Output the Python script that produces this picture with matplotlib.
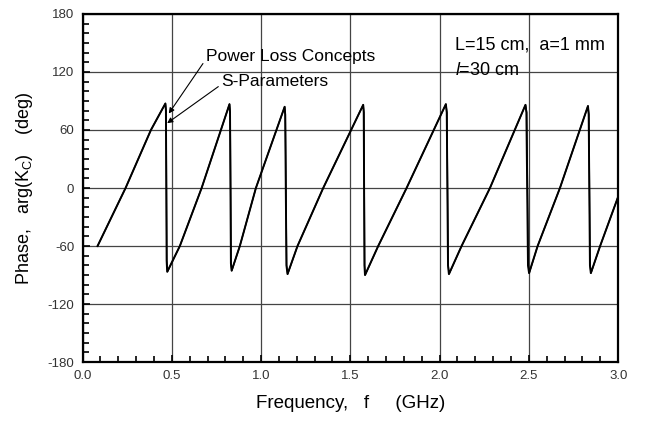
import matplotlib.pyplot as plt
from matplotlib.ticker import MultipleLocator

plt.rcParams["font.family"] = ["Liberation Sans", "DejaVu Sans"]
plt.rcParams["mathtext.fontset"] = "custom"
plt.rcParams["mathtext.rm"] = "Liberation Sans"
plt.rcParams["mathtext.it"] = "Liberation Sans:italic"
plt.rcParams["axes.unicode_minus"] = False

# phase of K_C vs frequency
power_f = [0.084, 0.241, 0.383, 0.464, 0.467, 0.471, 0.474, 0.545, 0.667,
           0.823, 0.826, 0.831, 0.835, 0.881, 0.971, 1.132, 1.135, 1.142,
           1.148, 1.204, 1.348, 1.572, 1.575, 1.579, 1.582, 1.656, 1.815,
           2.035, 2.040, 2.047, 2.052, 2.123, 2.282, 2.481, 2.486, 2.495,
           2.501, 2.549, 2.674, 2.831, 2.835, 2.842, 2.847, 2.899, 3.0]
power_phase = [-60, 0, 60, 87.4, 80, -75, -86.6, -60, 0,
               86.7, 78, -78, -85.5, -60, 0, 84, 76, -80,
               -89, -60, 0, 86, 78, -80, -90, -60, 0,
               86.7, 78, -80, -89, -60, 0, 86, 78, -80,
               -88, -60, 0, 84.8, 76, -80, -88, -60, -9]

spar_f = [0.084, 0.241, 0.383, 0.464, 0.468, 0.472, 0.476, 0.545, 0.667,
          0.823, 0.827, 0.832, 0.836, 0.881, 0.971, 1.132, 1.136, 1.143,
          1.149, 1.204, 1.348, 1.572, 1.576, 1.580, 1.583, 1.656, 1.815,
          2.035, 2.041, 2.048, 2.053, 2.123, 2.282, 2.481, 2.488, 2.497,
          2.502, 2.549, 2.674, 2.831, 2.836, 2.843, 2.848, 2.899, 3.0]
spar_phase = power_phase

fig = plt.figure(figsize=(6.5, 4.22), dpi=100)
ax = fig.add_axes([0.127, 0.142, 0.824, 0.825])

ax.plot(power_f, power_phase, color="black", lw=1.4)
ax.plot(spar_f, spar_phase, color="black", lw=1.0)

ax.set_xlim(0, 3.0)
ax.set_ylim(-180, 180)
ax.xaxis.set_major_locator(MultipleLocator(0.5))
ax.xaxis.set_minor_locator(MultipleLocator(0.1))
ax.yaxis.set_major_locator(MultipleLocator(60))
ax.yaxis.set_minor_locator(MultipleLocator(10))
ax.xaxis.set_major_formatter(lambda v, p: f"{v:.1f}")
ax.tick_params(which="both", direction="in", top=False, right=False,
               labelsize=9.5, labelcolor="#333333", width=1.2)
ax.tick_params(which="major", length=5, pad=6)
ax.tick_params(which="minor", length=4)
ax.grid(True, which="major", color="#444444", lw=0.9)
for s in ax.spines.values():
    s.set_linewidth(1.6)

ax.set_xlabel("Frequency,   f     (GHz)", fontsize=13.5, labelpad=9)
ax.set_ylabel(r"Phase,   arg(K$_{\rm C}$)    (deg)", fontsize=13, labelpad=9)

ax.annotate("Power Loss Concepts", xy=(0.483, 77), xytext=(0.69, 136),
            fontsize=12.5, va="center",
            arrowprops=dict(arrowstyle="-|>", color="black", lw=0.8,
                            shrinkA=0, shrinkB=0, mutation_scale=8,
                            relpos=(0, 0.3)))
ax.annotate("S-Parameters", xy=(0.474, 67), xytext=(0.776, 110),
            fontsize=12.5, va="center",
            arrowprops=dict(arrowstyle="-|>", color="black", lw=0.8,
                            shrinkA=0, shrinkB=0, mutation_scale=8,
                            relpos=(0, 0.3)))

ax.text(2.085, 148, "L=15 cm,  a=1 mm", fontsize=13, va="center")
ax.text(2.085, 122, r"$\mathit{l}$=30 cm", fontsize=13, va="center")

fig.savefig("out.png", dpi=100)
